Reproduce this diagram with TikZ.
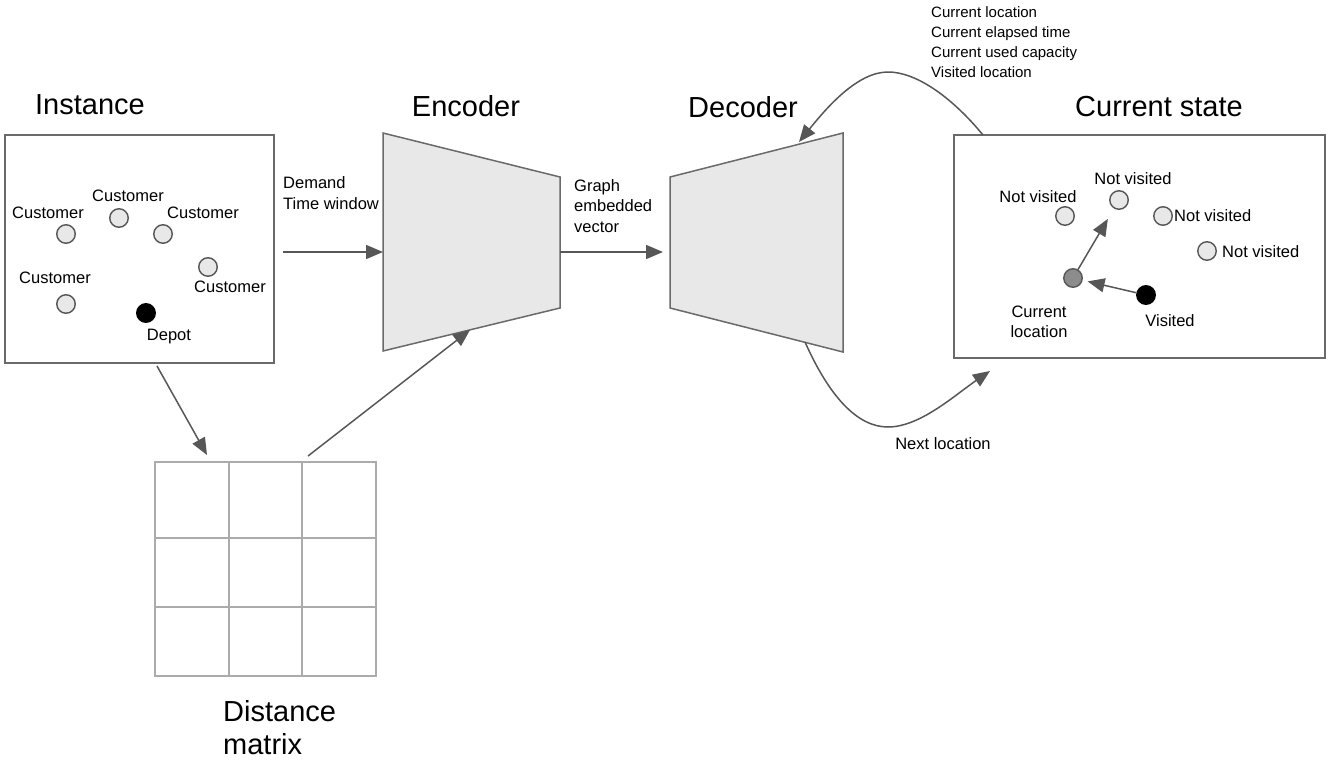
\documentclass[tikz,border=0pt]{standalone}
\usepackage{fontspec}
\setmainfont{Liberation Sans}
\usetikzlibrary{arrows.meta}
\definecolor{edge}{HTML}{575757}
\definecolor{frame}{HTML}{6A6A6A}
\definecolor{gridc}{HTML}{ABABAB}
\definecolor{nodefill}{HTML}{E8E8E8}
\definecolor{curfill}{HTML}{8C8C8C}

\begin{document}
\begin{tikzpicture}[x=1pt,y=-1pt,
  lbl/.style={font=\fontsize{16.5}{20.5}\selectfont, inner sep=0, align=left},
  title/.style={font=\fontsize{29}{33}\selectfont, inner sep=0, align=left},
  place/.style={circle, draw=edge, line width=1.4pt, fill=nodefill, minimum size=18.5pt, inner sep=0},
  depotdot/.style={place, fill=black, draw=black},
  curdot/.style={place, fill=curfill},
  arr/.style={draw=edge, line width=1.5pt, -{Triangle[length=17pt,width=14pt]}},
  panel/.style={draw=frame, line width=2pt, fill=white, inner sep=0},
  block/.style={draw=frame, line width=1.5pt, fill=nodefill, line join=miter}]

\useasboundingbox (0,0) rectangle (1336,763);

% ---- titles ----
\node[title] (t-inst) at (90,105) {Instance};
\node[title] (t-enc) at (466,106) {Encoder};
\node[title] (t-dec) at (743,107) {Decoder};
\node[title] (t-cs) at (1159,107) {Current state};
\node[title, anchor=west] (t-dm) at (223,728) {Distance\\matrix};

% ---- instance panel ----
\node[panel, minimum width=269pt, minimum height=228pt] (inst) at (139.5,249) {};
\node[place] (c1) at (66,234) {};
\node[place] (c2) at (119,218) {};
\node[place] (c3) at (163,234) {};
\node[place] (c4) at (208,267) {};
\node[place] (c5) at (66,304) {};
\node[depotdot] (depot) at (146,313) {};
\node[lbl] (l1) at (48,213) {Customer};
\node[lbl] (l2) at (128,196) {Customer};
\node[lbl] (l3) at (203,213) {Customer};
\node[lbl] (l4) at (230,287) {Customer};
\node[lbl] (l5) at (55,278) {Customer};
\node[lbl] (ld) at (169,337) {Depot};

% ---- encoder and decoder blocks ----
\draw[block] (383,133) -- (560,177) -- (560,308) -- (383,351) -- cycle;
\draw[block] (670,177) -- (843,133) -- (843,352) -- (670,308) -- cycle;
\coordinate (enc-w) at (383,252);
\coordinate (enc-e) at (560,252);
\coordinate (enc-s) at (470,330);
\coordinate (dec-w) at (663,252);
\coordinate (dec-n) at (799,142);
\coordinate (dec-s) at (805,342);

% ---- distance matrix ----
\node[inner sep=0, minimum width=221pt, minimum height=214pt] (dm) at (265.5,569) {};
\draw[gridc, line width=1.5pt] (155,462) rectangle (376,676);
\foreach \x in {229,302} \draw[gridc, line width=1.5pt] (\x,462) -- (\x,676);
\foreach \y in {538,607} \draw[gridc, line width=1.5pt] (155,\y) -- (376,\y);

% ---- current state panel ----
\node[panel, minimum width=371pt, minimum height=223pt] (cs) at (1139.5,246.5) {};
\node[place] (nv1) at (1065,216) {};
\node[place] (nv2) at (1119,200) {};
\node[place] (nv3) at (1163,216) {};
\node[place] (nv4) at (1207,251) {};
\node[curdot] (cur) at (1073,278) {};
\node[depotdot] (vis) at (1146,295) {};
\node[lbl] (lnv1) at (1038,197) {Not visited};
\node[lbl] (lnv2) at (1133,179) {Not visited};
\node[lbl, anchor=west] (lnv3) at (1174,216) {Not visited};
\node[lbl, anchor=west] (lnv4) at (1222,252) {Not visited};
\node[lbl, align=center] (lcur) at (1039,322) {Current\\location};
\node[lbl] (lvis) at (1170,321) {Visited};
\draw[arr, shorten >=12pt] (cur) -- (nv2);
\draw[arr, shorten >=5pt] (vis) -- (cur);

% ---- edge labels ----
\node[lbl, anchor=west] (ldem) at (283,193) {Demand\\Time window};
\node[lbl, anchor=west] (lgev) at (574,206) {Graph\\embedded\\vector};
\node[lbl, anchor=west, font=\fontsize{15}{20}\selectfont] (lstate) at (931,42)
  {Current location\\Current elapsed time\\Current used capacity\\Visited location};
\node[lbl] (lnext) at (943,444) {Next location};

% ---- connectors ----
\coordinate (inst-e) at (283,252);
\coordinate (inst-s) at (157,366);
\coordinate (dm-n1) at (207,455);
\coordinate (dm-n2) at (308,456);
\coordinate (cs-n) at (983,135);
\coordinate (cs-w) at (990,371);
\coordinate (loop-top) at (888,72);
\coordinate (loop-bot) at (888,427);

\draw[arr] (inst-e) -- (enc-w);
\draw[arr] (enc-e) -- (dec-w);
\draw[arr] (inst-s) -- (dm-n1);
\draw[arr] (dm-n2) -- (enc-s);
\draw[arr] (cs-n) .. controls (950,95) and (915,72) .. (loop-top)
               .. controls (858,72) and (828,106) .. (dec-n);
\draw[arr] (dec-s) .. controls (830,398) and (858,427) .. (loop-bot)
               .. controls (920,427) and (955,395) .. (cs-w);
\end{tikzpicture}
\end{document}
